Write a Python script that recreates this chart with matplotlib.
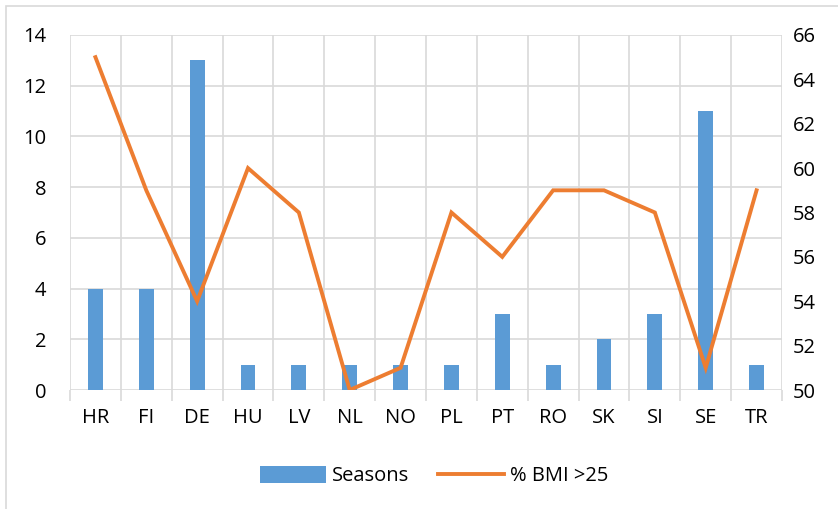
import matplotlib.pyplot as plt
from matplotlib.patches import Rectangle
import numpy as np

countries = ["HR", "FI", "DE", "HU", "LV", "NL", "NO", "PL", "PT", "RO", "SK", "SI", "SE", "TR"]
seasons = [4, 4, 13, 1, 1, 1, 1, 1, 3, 1, 2, 3, 11, 1]
bmi_over_25 = [65, 59, 54, 60, 58, 50, 51, 58, 56, 59, 59, 58, 51, 59]

BAR_COLOR = "#5B9BD5"
LINE_COLOR = "#ED7D31"
GRID_COLOR = "#D9D9D9"
FS = 14.5

plt.rcParams["font.family"] = ["Open Sans", "DejaVu Sans"]

fig = plt.figure(figsize=(8.38, 5.09), dpi=100)
fig.patches.append(Rectangle((6 / 838, -0.1), 1.0, (509 - 6) / 509 + 0.1,
                             transform=fig.transFigure, fill=False,
                             edgecolor=GRID_COLOR, linewidth=1.2))

ax = fig.add_axes([70 / 838, 1 - 390 / 509, (782 - 70) / 838, (390 - 35) / 509])
x = np.arange(len(countries))

ax.bar(x, seasons, width=0.29, color=BAR_COLOR, label="Seasons", zorder=3)
ax.set_xlim(-0.5, len(countries) - 0.5)
ax.set_ylim(0, 14)
ax.set_yticks(range(0, 15, 2))
ax.set_xticks(x)
ax.set_xticklabels(countries)

# category boundary grid lines (extend below axis like tick marks)
ax.set_xticks(np.arange(-0.5, len(countries), 1), minor=True)
ax.grid(True, which="minor", axis="x", color=GRID_COLOR, linewidth=1.2, zorder=0)
ax.grid(True, which="major", axis="y", color=GRID_COLOR, linewidth=1.2, zorder=0)
ax.tick_params(axis="x", which="major", length=0, pad=13, labelsize=FS)
ax.tick_params(axis="x", which="minor", length=8, color=GRID_COLOR, width=1.2)
ax.tick_params(axis="y", length=0, pad=17, labelsize=FS)
for s in ax.spines.values():
    s.set_visible(False)

ax2 = ax.twinx()
ax2.plot(x, bmi_over_25, color=LINE_COLOR, linewidth=2.8, label="% BMI >25",
         solid_joinstyle="miter", zorder=4)
ax2.set_ylim(50, 66)
ax2.set_yticks(range(50, 67, 2))
ax2.tick_params(axis="y", length=0, pad=8, labelsize=FS)
for s in ax2.spines.values():
    s.set_visible(False)

h1, l1 = ax.get_legend_handles_labels()
h2, l2 = ax2.get_legend_handles_labels()
fig.legend(h1 + h2, l1 + l2, loc="center", bbox_to_anchor=(434 / 838, 1 - 476 / 509),
           ncol=2, frameon=False, fontsize=FS, handlelength=3.3, handleheight=0.9,
           columnspacing=1.4, handletextpad=0.3)

fig.savefig("out.png", dpi=100)
